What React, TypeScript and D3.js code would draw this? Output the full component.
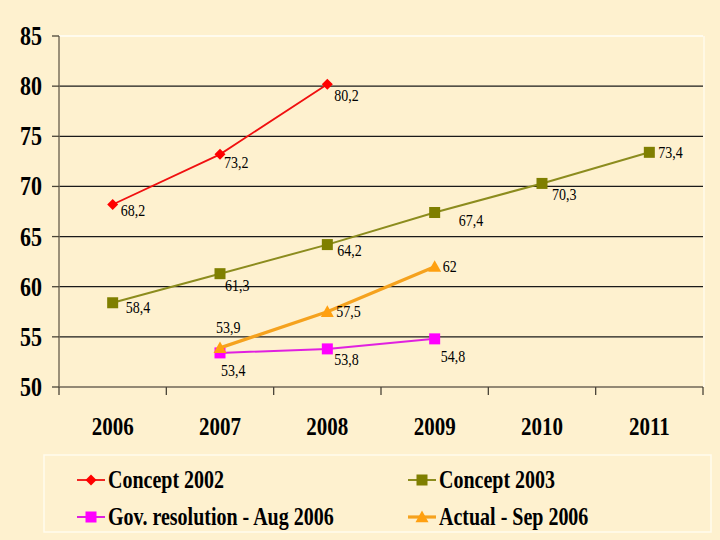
import React from "react";
import * as d3 from "d3";

const years = ["2006", "2007", "2008", "2009", "2010", "2011"];
const yTicks = [50, 55, 60, 65, 70, 75, 80, 85];

const concept2002 = [68.2, 73.2, 80.2, null, null, null];
const concept2003 = [58.4, 61.3, 64.2, 67.4, 70.3, 73.4];
const govResolution = [null, 53.4, 53.8, 54.8, null, null];
const actualSep2006 = [null, 53.9, 57.5, 62, null, null];

const seriesNames = ["Concept 2002", "Concept 2003", "Gov. resolution - Aug 2006", "Actual - Sep 2006"];

// label offsets (styling, relative to each point)
const labelOffsets: [number, number][][] = [
  [[8, 12], [4, 14], [7, 17], [0, 0], [0, 0], [0, 0]],
  [[13, 10], [5, 17], [10, 11], [24, 13], [10, 17], [9, 6]],
  [[0, 0], [1, 23], [7, 16], [6, 23], [0, 0], [0, 0]],
  [[0, 0], [-4, -15], [9, 5], [8, 5], [0, 0], [0, 0]],
];

const styles = [
  { color: "#F01010", marker: "#FF0000", width: 1.8, shape: "diamond" },
  { color: "#8C8C1E", marker: "#7F7F00", width: 2, shape: "square" },
  { color: "#E020E0", marker: "#FF00FF", width: 2, shape: "square" },
  { color: "#F5A21E", marker: "#FFA010", width: 3.2, shape: "triangle" },
];

const allSeries = [concept2002, concept2003, govResolution, actualSep2006];

const W = 720, H = 540;
const plot = { left: 59, right: 703, top: 36, bottom: 387 };
const SERIF = "'Liberation Serif', 'Times New Roman', serif";
const BG = "#FEF1CF";

function Marker({ shape, x, y, fill }: { shape: string; x: number; y: number; fill: string }) {
  if (shape === "diamond") {
    const s = 5.5;
    return <path d={`M${x},${y - s}L${x + s},${y}L${x},${y + s}L${x - s},${y}Z`} fill={fill} />;
  }
  if (shape === "square") {
    const s = 5.5;
    return <rect x={x - s} y={y - s} width={2 * s} height={2 * s} fill={fill} />;
  }
  const s = 6.5;
  return <path d={`M${x},${y - s}L${x + s},${y + s * 0.8}L${x - s},${y + s * 0.8}Z`} fill={fill} />;
}

function SText({ x, y, size, weight, anchor, children, sy = 1.22 }: any) {
  return (
    <text
      transform={`translate(${x},${y}) scale(1,${sy})`}
      fontFamily={SERIF}
      fontSize={size}
      fontWeight={weight}
      textAnchor={anchor}
      fill="#000"
    >
      {children}
    </text>
  );
}

export default function App() {
  const x = d3.scaleBand<string>().domain(years).range([plot.left, plot.right]).padding(0);
  const y = d3.scaleLinear().domain([50, 85]).range([plot.bottom, plot.top]);
  const cx = (i: number) => (x(years[i]) as number) + x.bandwidth() / 2;

  const line = d3
    .line<number | null>()
    .defined((d) => d != null)
    .x((_, i) => cx(i))
    .y((d) => y(d as number));

  const boundaries = years.map((yr) => x(yr) as number).concat([plot.right]);

  const legendItems = [
    { i: 0, lx: 77, tx: 108, ry: 480 },
    { i: 1, lx: 408, tx: 439, ry: 480 },
    { i: 2, lx: 77, tx: 108, ry: 517 },
    { i: 3, lx: 408, tx: 439, ry: 517 },
  ];

  return (
    <svg width={W} height={H} style={{ position: "absolute", left: 0, top: 0 }}>
      <rect x={0} y={0} width={W} height={H} fill={BG} />
      {/* plot border (light) */}
      <line x1={plot.left} x2={plot.right} y1={plot.top} y2={plot.top} stroke="#FFFBEE" strokeWidth={2} />
      <line x1={plot.right + 1} x2={plot.right + 1} y1={plot.top} y2={plot.bottom} stroke="#FFF8E4" strokeWidth={2} />
      {/* grid lines */}
      {yTicks.filter((t) => t !== 50 && t !== 85).map((t) => (
        <line key={t} x1={plot.left} x2={plot.right} y1={y(t)} y2={y(t)} stroke="#1a1a1a" strokeWidth={1.2} />
      ))}
      {/* axes */}
      <line x1={plot.left} x2={plot.right} y1={plot.bottom} y2={plot.bottom} stroke="#6f6657" strokeWidth={1.5} />
      <line x1={plot.left} x2={plot.left} y1={plot.top} y2={plot.bottom} stroke="#7a6f5d" strokeWidth={1.5} />
      {yTicks.map((t) => (
        <g key={t}>
          <line x1={plot.left - 7} x2={plot.left} y1={y(t)} y2={y(t)} stroke="#4a4438" strokeWidth={1.3} />
          <SText x={42} y={y(t) + 9} size={22} weight="bold" anchor="end">{t}</SText>
        </g>
      ))}
      {boundaries.map((b, i) => (
        <line key={i} x1={b} x2={b} y1={plot.bottom} y2={plot.bottom + 8} stroke="#4a4438" strokeWidth={1.3} />
      ))}
      {years.map((yr, i) => (
        <SText key={yr} x={cx(i)} y={435} size={21} weight="bold" anchor="middle">{yr}</SText>
      ))}
      {/* series */}
      {allSeries.map((s, si) => (
        <g key={si}>
          <path d={line(s) || ""} fill="none" stroke={styles[si].color} strokeWidth={styles[si].width} />
          {s.map((v, i) =>
            v == null ? null : (
              <g key={i}>
                <Marker shape={styles[si].shape} x={cx(i)} y={y(v)} fill={styles[si].marker} />
                <SText
                  x={cx(i) + labelOffsets[si][i][0]}
                  y={y(v) + labelOffsets[si][i][1]}
                  size={14}
                  weight="normal"
                  anchor="start"
                  sy={1.15}
                >
                  {String(v).replace(".", ",")}
                </SText>
              </g>
            )
          )}
        </g>
      ))}
      {/* legend */}
      <rect x={44} y={455} width={667} height={77} fill="none" stroke="#FFFBEE" strokeWidth={1.5} />
      {legendItems.map(({ i, lx, tx, ry }) => (
        <g key={i}>
          <line x1={lx} x2={lx + 28} y1={ry} y2={ry} stroke={styles[i].color} strokeWidth={styles[i].width} />
          <Marker shape={styles[i].shape} x={lx + 14} y={ry} fill={styles[i].marker} />
          <SText x={tx} y={ry + 8} size={20} weight="bold" anchor="start">{seriesNames[i]}</SText>
        </g>
      ))}
    </svg>
  );
}
